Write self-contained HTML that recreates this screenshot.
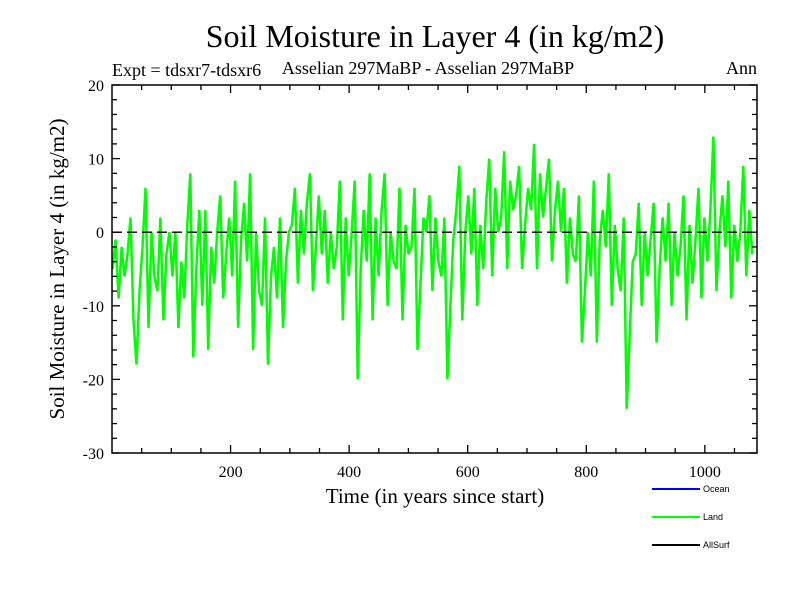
<!DOCTYPE html>
<html><head><meta charset="utf-8"><style>
body{margin:0;background:#fff;}
svg{display:block;font-family:"Liberation Serif",serif;}
</style></head><body>
<svg id="c" width="800" height="600">
<rect width="800" height="600" fill="#fff"/>
<text x="435" y="47" font-size="32" text-anchor="middle">Soil Moisture in Layer 4 (in kg/m2)</text>
<text x="112" y="76" font-size="18">Expt = tdsxr7-tdsxr6</text>
<text x="428" y="74" font-size="18" text-anchor="middle">Asselian 297MaBP - Asselian 297MaBP</text>
<text x="757" y="74" font-size="18" text-anchor="end">Ann</text>
<text transform="translate(64,269) rotate(-90)" font-size="21" text-anchor="middle">Soil Moisture in Layer 4 (in kg/m2)</text>
<text x="435" y="503" font-size="21" text-anchor="middle">Time (in years since start)</text>
<g id="plot"></g>
<g id="axes"></g>
<g>
<line x1="652" y1="489" x2="700" y2="489" stroke="#0000ff" stroke-width="2"/>
<text x="703" y="492" font-size="9" font-family="Liberation Sans,sans-serif">Ocean</text>
<line x1="652" y1="517" x2="700" y2="517" stroke="#00ff00" stroke-width="2"/>
<text x="703" y="520" font-size="9" font-family="Liberation Sans,sans-serif">Land</text>
<line x1="652" y1="545" x2="700" y2="545" stroke="#000" stroke-width="2"/>
<text x="703" y="548" font-size="9" font-family="Liberation Sans,sans-serif">AllSurf</text>
</g>
</svg>
<script>
const landValues=[-5,-1,-9,-2,-6, -3,2,-12,-18,-8, -2,6,-13,0,-6, -8,2,-12,-3,0, -6,0,-13,-4,-9,
1,8,-17,-5,3, -10,3,-16,-2,-7, 0,5,-9,-3,2, -6,7,-13,-1,4, -4,8,-16,0,-8,
-10,2,-18,-6,-2, -9,2,-13,-4,0, 1,6,-7,3,-3, 4,8,-8,-2,5, -3,3,-7,0,-5,
-2,7,-12,2,-6, 0,7,-20,-5,3, -4,8,-12,2,-6, 3,8,-10,0,-4, -5,6,-12,1,-3,
-2,6,-16,-7,2, 0,5,-8,2,-4, -6,2,-20,-10,-1, 3,9,-12,0,5, -3,6,-10,1,-5,
4,10,-6,6,0, 2,11,-5,7,3, 5,9,-5,1,6, 3,12,-5,8,2, 6,10,-4,3,7,
0,6,-7,2,-3, -4,5,-15,-8,0, -6,7,-15,-1,3, -2,8,-10,1,-5, -8,2,-24,-14,-4,
-3,4,-10,0,-6, -1,4,-15,-5,2, -4,4,-10,0,-6, -2,5,-12,1,-7, -1,6,-9,2,-4,
3,13,-8,0,5, -2,7,-9,1,-4, 0,9,-6,3,-3];
const startYear=1, endYear=1080;
const xTicks=[200,400,600,800,1000];
const yTicks=[-30,-20,-10,0,10,20];
const L=112,R=757,T=85,B=453,xMin=0,xMax=1088,yMin=-30,yMax=20;
const xs=v=>L+(v-xMin)/(xMax-xMin)*(R-L);
const ys=v=>B-(v-yMin)/(yMax-yMin)*(B-T);
const NS='http://www.w3.org/2000/svg';
const plot=document.getElementById('plot'),axes=document.getElementById('axes');
function mk(tag,attrs,parent){const e=document.createElementNS(NS,tag);for(const k in attrs)e.setAttribute(k,attrs[k]);parent.appendChild(e);return e;}
const n=landValues.length;
const pts=landValues.map((v,i)=>{const yr=startYear+i*(endYear-startYear)/(n-1);return xs(yr).toFixed(1)+','+ys(v).toFixed(1);}).join(' ');
const line=mk('polyline',{points:pts,fill:'none',stroke:'#00ff00','stroke-width':2.5,'stroke-linejoin':'miter'},plot);


const zero=mk('line',{x1:L,x2:R,y1:ys(0),y2:ys(0),stroke:'#000','stroke-width':1.3,'stroke-dasharray':'10,5'},plot);


const frame=mk('rect',{x:L,y:T,width:R-L,height:B-T,fill:'none',stroke:'#000','stroke-width':1.5},axes);


for(let v=yMin;v<=yMax;v+=2){const big=v%10===0;const w=big?8:5;
 mk('line',{x1:L,x2:L+w,y1:ys(v),y2:ys(v),stroke:'#000','stroke-width':1.3},axes);
 mk('line',{x1:R-w,x2:R,y1:ys(v),y2:ys(v),stroke:'#000','stroke-width':1.3},axes);}
yTicks.forEach(v=>{const t=mk('text',{x:L-8,y:ys(v)+6,'font-size':16,'text-anchor':'end'},axes);t.textContent=v;
 
 });
for(let v=50;v<xMax;v+=50){const big=v%200===0;const w=big?8:5;
 mk('line',{x1:xs(v),x2:xs(v),y1:B,y2:B-w,stroke:'#000','stroke-width':1.3},axes);
 mk('line',{x1:xs(v),x2:xs(v),y1:T,y2:T+w,stroke:'#000','stroke-width':1.3},axes);}
xTicks.forEach(v=>{const t=mk('text',{x:xs(v),y:B+24,'font-size':16,'text-anchor':'middle'},axes);t.textContent=v;
 
 });
</script>
</body></html>
